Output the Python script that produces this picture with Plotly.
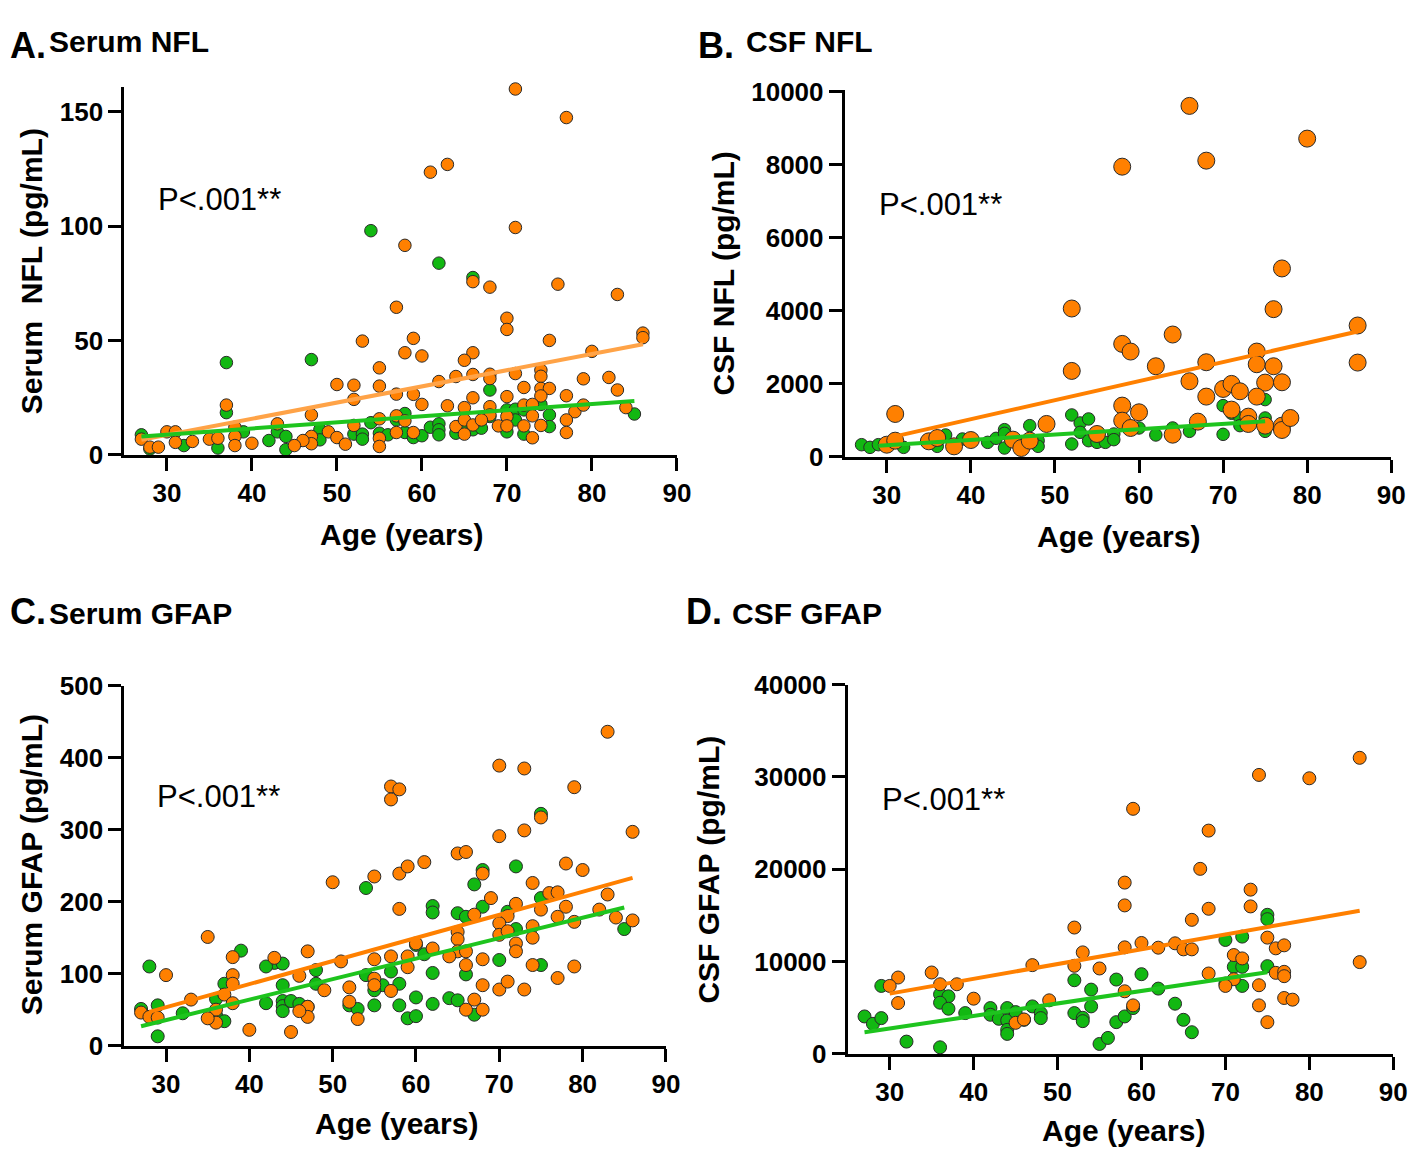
import plotly.graph_objects as go

FW, FH = 1416, 1153   # figure size

# ---------------- Panel A: Serum NFL ----------------
A_orange_age = [71, 77, 61, 63, 71, 58, 66, 68, 76, 83, 57, 70, 70, 86, 86, 53, 59, 75, 58, 60,
                66, 65, 80, 55, 55, 50, 52, 52, 64, 66, 68, 68, 71, 74, 74, 62, 79, 82, 83, 57,
                59, 60, 63, 66, 70, 72, 74, 75, 74, 77, 72, 73, 78, 79, 84, 65, 68, 68, 47, 37,
                38, 38, 38, 43, 47, 47, 46, 45, 49, 50, 51, 52, 55, 55, 55, 57, 57, 58, 59, 64,
                65, 65, 66, 67, 69, 70, 70, 72, 73, 73, 74, 77, 77, 27, 28, 29, 30, 31, 31, 33,
                35, 36, 40]
A_orange_val = [160, 147.5, 123.6, 127, 99.4, 91.6, 75.7, 73.3, 74.6, 70.1, 64.5, 59.7, 54.8, 53.2, 51.2, 49.7, 50.9, 50, 44.6, 43.2,
                44.6, 41.3, 45.2, 38, 30, 30.7, 30.4, 24.2, 34.2, 35.1, 35.2, 33.3, 35.5, 37, 34.3, 32, 33.2, 33.8, 28.3, 26.5,
                26.4, 22, 21.4, 24.9, 25.4, 29.4, 29, 29, 25.7, 25.8, 21.7, 22, 18.8, 21.7, 20.6, 20.6, 21, 17.4, 17.4, 21.7,
                12, 8, 4, 13.5, 8, 4.8, 6.2, 4, 10, 7.5, 4.6, 12.8, 15.7, 7.2, 3.6, 17, 9.7, 14.8, 9.7, 12.3,
                9, 15.2, 13, 15.2, 12.6, 16.7, 12.6, 12.6, 17, 7.4, 12.8, 15.2, 9.7, 6.8, 3.3, 3.3, 10, 10, 5.4, 5.8,
                6.8, 7.2, 5]
A_green_age = [54, 62, 66, 37, 47, 37, 68, 70, 71, 72, 75, 75, 85, 27, 28, 32, 36, 39, 42, 43,
               44, 44, 48, 48, 52, 53, 53, 54, 55, 56, 57, 58, 58, 59, 60, 61, 62, 62, 62, 64,
               65, 66, 67, 68, 70, 71, 72, 74]
A_green_val = [98, 83.8, 77.5, 40.3, 41.6, 18.4, 28.3, 19.6, 19.9, 19.6, 17.4, 12.3, 17.8, 8.7, 2.5, 4, 2.9, 10, 6.2, 10,
               8, 2.2, 11, 6.5, 9, 9, 6.8, 14, 9.4, 8.7, 15.2, 18, 9.7, 7.5, 8.3, 12, 13.5, 10.9, 8.7, 9.4,
               10.9, 10.9, 11.6, 16.7, 10, 15.2, 9, 22]
A_fit_orange_age = [27, 86]
A_fit_orange_val = [6.5, 48.3]
A_fit_green_age = [27, 85]
A_fit_green_val = [8, 23.5]

# ---------------- Panel B: CSF NFL ----------------
B_orange_age = [66, 58, 68, 80, 77, 52, 76, 86, 64, 58, 59, 52, 62, 68, 74, 74, 76, 86, 66, 70,
                71, 72, 75, 77, 68, 74, 58, 60, 71, 31, 49, 58, 59, 67, 73, 73, 75, 77, 77, 78,
                55, 64, 30, 31, 35, 36, 38, 40, 45, 46, 47]
B_orange_val = [9616, 7950, 8115, 8719, 5160, 4062, 4044, 3596, 3349, 3092, 2882, 2351, 2479, 2589, 2882, 2534, 2479, 2580, 2068, 1857,
                1995, 1793, 2031, 2040, 1647, 1647, 1400, 1217, 1290, 1171, 897, 988, 787, 961, 1098, 897, 851, 851, 732, 1061,
                622, 604, 329, 439, 421, 512, 284, 457, 467, 238, 439]
B_green_age = [27, 28, 29, 32, 36, 37, 39, 42, 43, 44, 44, 44, 47, 48, 48, 52, 52, 53, 54, 53,
               54, 55, 56, 57, 57, 60, 62, 64, 66, 70, 70, 71, 72, 72, 75, 75, 75]
B_green_val = [329, 256, 329, 256, 284, 595, 485, 393, 503, 741, 640, 238, 851, 439, 284, 1144, 348, 924, 1034, 668,
               439, 393, 393, 622, 467, 787, 595, 787, 695, 1400, 613, 1190, 1061, 851, 1565, 1061, 695]
B_fit_orange_age = [31, 86]
B_fit_orange_val = [558, 3431]
B_fit_green_age = [29, 75]
B_fit_green_val = [300, 970]

# ---------------- Panel C: Serum GFAP ----------------
C_orange_age = [83, 70, 73, 57, 58, 57, 79, 75, 70, 73, 86, 65, 66, 50, 55, 58, 59, 61, 78, 80,
                68, 74, 69, 76, 77, 83, 58, 67, 72, 75, 78, 71, 77, 79, 82, 84, 86, 70, 70, 71,
                74, 74, 65, 65, 72, 72, 60, 65, 66, 64, 62, 59, 57, 55, 51, 47, 43, 38, 35, 30,
                38, 38, 37, 38, 33, 36, 36, 35, 46, 49, 47, 47, 46, 40, 45, 52, 52, 53, 55, 55,
                57, 59, 68, 68, 66, 67, 66, 68, 70, 71, 73, 74, 77, 79, 27, 28, 29]
C_orange_val = [436, 389, 385, 360, 356, 342, 359, 317, 291, 299, 297, 267, 269, 227, 235, 239, 249, 255, 253, 244,
                239, 226, 205, 212, 213, 210, 190, 182, 197, 189, 193, 180, 179, 172, 189, 178, 174, 170, 154, 159,
                166, 150, 158, 148, 142, 131, 142, 131, 131, 124, 135, 124, 124, 120, 117, 131, 122, 123, 151, 98,
                98, 86, 71, 59, 64, 50, 32, 38, 97, 77, 54, 40, 48, 22, 19, 81, 61, 37, 93, 84,
                76, 109, 120, 84, 112, 64, 50, 50, 78, 89, 78, 112, 94, 110, 46, 40, 39]
C_green_age = [75, 68, 72, 54, 67, 75, 62, 62, 65, 66, 68, 71, 72, 39, 43, 44, 42, 28, 48, 48,
               44, 37, 36, 54, 57, 58, 56, 55, 61, 60, 62, 66, 70, 75, 85, 42, 44, 44, 44, 45,
               46, 47, 52, 53, 55, 58, 60, 62, 64, 65, 67, 59, 60, 36, 37, 32, 29, 27, 29]
C_green_val = [322, 244, 249, 219, 224, 205, 194, 185, 184, 179, 193, 186, 162, 132, 115, 114, 110, 110, 105, 86,
               84, 86, 65, 98, 103, 86, 84, 77, 127, 140, 101, 99, 119, 112, 162, 59, 62, 55, 48, 62,
               58, 54, 56, 51, 56, 56, 67, 58, 66, 63, 43, 38, 41, 42, 34, 45, 56, 51, 13]
C_fit_orange_age = [28, 86]
C_fit_orange_val = [47, 233]
C_fit_green_age = [27, 85]
C_fit_green_val = [27, 192]

# ---------------- Panel D: CSF GFAP ----------------
D_orange_age = [86, 74, 80, 59, 68, 67, 58, 58, 73, 73, 68, 66, 52, 75, 60, 58, 62, 64, 65, 66,
                76, 77, 53, 71, 72, 47, 52, 55, 86, 68, 76, 77, 77, 71, 70, 74, 35, 31, 30, 36,
                38, 31, 40, 49, 58, 59, 74, 77, 78, 75, 45, 46]
D_orange_val = [32073, 30218, 29855, 26545, 24182, 20036, 18545, 16073, 17782, 15964, 15709, 14509, 13673, 12582, 12000, 11527, 11491, 11964, 11309, 11309,
                11418, 11745, 10982, 10691, 10327, 9600, 9527, 9236, 9927, 8691, 8764, 8873, 8400, 8073, 7345, 7418, 8800, 8255, 7345, 7527,
                7527, 5491, 5964, 5782, 6764, 5236, 5236, 6036, 5855, 3418, 3345, 3709]
D_green_age = [75, 75, 70, 72, 71, 72, 75, 60, 52, 57, 54, 62, 70, 72, 29, 36, 37, 36, 37, 39,
               42, 42, 43, 44, 44, 44, 44, 45, 46, 47, 48, 48, 52, 53, 53, 54, 57, 58, 59, 64,
               65, 66, 55, 56, 27, 28, 29, 32, 36]
D_green_val = [15054, 14582, 12327, 12691, 9418, 9418, 9491, 8618, 7964, 8036, 6945, 7054, 7600, 7345, 7345, 6436, 6218, 5527, 4873, 4400,
               4945, 4218, 3782, 4945, 3600, 2582, 2145, 4509, 3672, 5127, 4400, 3855, 4400, 3890, 3527, 5127, 3418, 4036, 4945, 5418,
               3672, 2327, 1054, 1709, 4036, 3236, 3855, 1309, 691]
D_fit_orange_age = [30, 86]
D_fit_orange_val = [6509, 15491]
D_fit_green_age = [27, 75]
D_fit_green_val = [2327, 8836]

x_ticks = [30, 40, 50, 60, 70, 80, 90]
A_y_ticks = [0, 50, 100, 150]
B_y_ticks = [0, 2000, 4000, 6000, 8000, 10000]
C_y_ticks = [0, 100, 200, 300, 400, 500]
D_y_ticks = [0, 10000, 20000, 30000, 40000]

ORANGE = "#FF8000"
GREEN = "#12B812"
GREEN_LINE = "#1EC41E"
EDGE = "#2a2a2a"
FONT = "Liberation Sans, Arial, sans-serif"

# mapping from the reference picture's pixels to figure pixels
# (compensates the offset/scale seen between the figure and the photographed page)
SX, OX = 0.991, 6.5
SY, OY = 0.974, 23.3


def px_x(x):
    return ((x - OX) / SX) / FW


def px_y(y):
    fy = (y - OY) / SY
    return 1 - fy / FH


panels = [
    dict(xa="x", ya="y", xd=(123, 676), yd=(87, 455), yr=[0, 161], yt=A_y_ticks,
         og=(A_orange_age, A_orange_val), gr=(A_green_age, A_green_val),
         fo=(A_fit_orange_age, A_fit_orange_val), fg=(A_fit_green_age, A_fit_green_val),
         so=12.5, sg=12.5, olc="#FFA347"),
    dict(xa="x2", ya="y2", xd=(844, 1391), yd=(90, 457), yr=[0, 10060], yt=B_y_ticks,
         og=(B_orange_age, B_orange_val), gr=(B_green_age, B_green_val),
         fo=(B_fit_orange_age, B_fit_orange_val), fg=(B_fit_green_age, B_fit_green_val),
         so=17, sg=12.5, olc=ORANGE),
    dict(xa="x3", ya="y3", xd=(123, 665), yd=(686, 1046), yr=[0, 500], yt=C_y_ticks,
         og=(C_orange_age, C_orange_val), gr=(C_green_age, C_green_val),
         fo=(C_fit_orange_age, C_fit_orange_val), fg=(C_fit_green_age, C_fit_green_val),
         so=13, sg=13, olc=ORANGE),
    dict(xa="x4", ya="y4", xd=(847, 1393), yd=(685, 1054), yr=[0, 40000], yt=D_y_ticks,
         og=(D_orange_age, D_orange_val), gr=(D_green_age, D_green_val),
         fo=(D_fit_orange_age, D_fit_orange_val), fg=(D_fit_green_age, D_fit_green_val),
         so=13, sg=13, olc=ORANGE),
]

fig = go.Figure()
layout = dict(
    width=FW, height=FH, margin=dict(l=0, r=0, t=0, b=0),
    paper_bgcolor="white", plot_bgcolor="white", showlegend=False,
    font=dict(family=FONT, color="black"),
)

for i, p in enumerate(panels):
    gx, gy = p["gr"]
    ox, oy = p["og"]
    fig.add_trace(go.Scatter(x=gx, y=gy, mode="markers", xaxis=p["xa"], yaxis=p["ya"],
                             cliponaxis=False,
                             marker=dict(size=p["sg"], color=GREEN, line=dict(color=EDGE, width=1))))
    fig.add_trace(go.Scatter(x=ox, y=oy, mode="markers", xaxis=p["xa"], yaxis=p["ya"],
                             cliponaxis=False,
                             marker=dict(size=p["so"], color=ORANGE, line=dict(color=EDGE, width=1))))
    fig.add_trace(go.Scatter(x=p["fo"][0], y=p["fo"][1], mode="lines", xaxis=p["xa"], yaxis=p["ya"],
                             cliponaxis=False, line=dict(color=p["olc"], width=4)))
    fig.add_trace(go.Scatter(x=p["fg"][0], y=p["fg"][1], mode="lines", xaxis=p["xa"], yaxis=p["ya"],
                             cliponaxis=False, line=dict(color=GREEN_LINE, width=4)))

    suffix = "" if i == 0 else str(i + 1)
    common = dict(showgrid=False, zeroline=False, showline=True, linecolor="black", linewidth=3,
                  ticks="outside", ticklen=13, tickwidth=3, tickcolor="black",
                  tickfont=dict(family=FONT, size=26, color="black", weight="bold"))
    layout["xaxis" + suffix] = dict(
        domain=[px_x(p["xd"][0]), px_x(p["xd"][1])], range=[25, 90], tickmode="array",
        tickvals=x_ticks, ticktext=[str(v) for v in x_ticks], anchor="y" + suffix, **common)
    layout["yaxis" + suffix] = dict(
        domain=[px_y(p["yd"][1]), px_y(p["yd"][0])], range=p["yr"], tickmode="array",
        tickvals=p["yt"], ticktext=[str(v) for v in p["yt"]], anchor="x" + suffix, **common)

fig.update_layout(**layout)

anns = []


def txt(text, x, y, size, bold=True, angle=0, xanchor="center", yanchor="middle"):
    yy = px_y(y)
    if yy > 1:
        yy, yanchor = 1, "top"
    xx = max(px_x(x), 0.0)
    anns.append(dict(text=("<b>%s</b>" % text) if bold else text, x=xx, y=yy,
                     xref="paper", yref="paper", showarrow=False, xanchor=xanchor, yanchor=yanchor,
                     textangle=angle, font=dict(family=FONT, size=size, color="black")))


# panel headings
txt("A.", 1, 19, 36, xanchor="left")
txt("Serum NFL", 46, 21, 30, xanchor="left")
txt("B.", 695, 19, 36, xanchor="left")
txt("CSF NFL", 743, 21, 30, xanchor="left")
txt("C.", 1, 612, 36, xanchor="left")
txt("Serum GFAP", 46, 614, 30, xanchor="left")
txt("D.", 683, 612, 36, xanchor="left")
txt("CSF GFAP", 729, 614, 30, xanchor="left")

# x titles
txt("Age (years)", 400, 535, 30)
txt("Age (years)", 1118, 537, 30)
txt("Age (years)", 395, 1124, 30)
txt("Age (years)", 1123, 1131, 30)

# y titles
txt("Serum  NFL (pg/mL)", 30, 271, 30, angle=-90)
txt("CSF NFL (pg/mL)", 723, 274, 30, angle=-90)
txt("Serum GFAP (pg/mL)", 30, 865, 30, angle=-90)
txt("CSF GFAP (pg/mL)", 708, 870, 30, angle=-90)

# p-values
txt("P&lt;.001**", 155, 200, 31, bold=False, xanchor="left")
txt("P&lt;.001**", 876, 205, 31, bold=False, xanchor="left")
txt("P&lt;.001**", 154, 797, 31, bold=False, xanchor="left")
txt("P&lt;.001**", 879, 800, 31, bold=False, xanchor="left")

fig.update_layout(annotations=anns)
fig.write_html("out.html")
